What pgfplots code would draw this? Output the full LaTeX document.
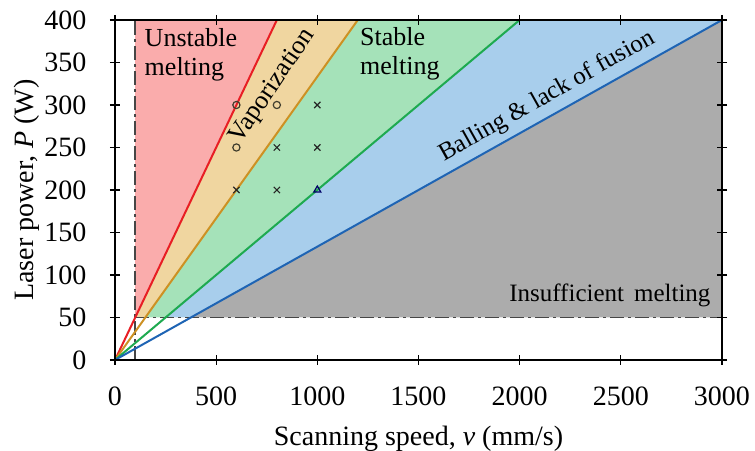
\documentclass[border=0pt]{standalone}
\usepackage{fontspec}
\setmainfont{Liberation Serif}
\usepackage{pgfplots}
\pgfplotsset{compat=1.18}
\definecolor{fpink}{RGB}{250,172,172}
\definecolor{forange}{RGB}{240,214,160}
\definecolor{fgreen}{RGB}{165,226,185}
\definecolor{fblue}{RGB}{168,206,236}
\definecolor{fgray}{RGB}{172,172,172}
\definecolor{lred}{RGB}{232,30,36}
\definecolor{lorange}{RGB}{205,145,35}
\definecolor{lgreen}{RGB}{30,170,80}
\definecolor{lblue}{RGB}{30,100,180}
\definecolor{dashc}{RGB}{70,70,70}
\begin{document}
\fontsize{14}{16}\selectfont
\begin{tikzpicture}
\begin{axis}[
  scale only axis,
  width=303.5pt, height=170pt,
  xmin=0, xmax=3000, ymin=0, ymax=400,
  xtick={0,500,...,3000}, ytick={0,50,...,400},
  tick align=center,
  major tick length=5pt,
  tick style={black, line width=0.6pt},
  axis line style={black, line width=0.7pt},
  /pgf/number format/assume math mode=true,
  /pgf/number format/set thousands separator={},
  tick label style={font=\fontsize{14}{16}\selectfont},
  yticklabel style={xshift=-7pt},
  xticklabel style={yshift=-6pt},
  label style={font=\fontsize{14}{16}\selectfont},
  xlabel={Scanning speed, \textit{v} (mm/s)},
  ylabel={Laser power, \textit{P} (W)},
  xlabel style={at={(axis description cs:0.5,-0.232)}, anchor=center},
  ylabel style={at={(axis description cs:-0.145,0.5)}, anchor=center},
  axis on top,
  clip=true,
]
% region fills
\addplot[fill=fpink, draw=none] coordinates {(100,50) (100,400) (800,400)} -- cycle;
\addplot[fill=forange, draw=none] coordinates {(100,50) (800,400) (1200,400) (150,50)} -- cycle;
\addplot[fill=fgreen, draw=none] coordinates {(150,50) (1200,400) (2000,400) (250,50)} -- cycle;
\addplot[fill=fblue, draw=none] coordinates {(250,50) (2000,400) (3000,400) (375,50)} -- cycle;
\addplot[fill=fgray, draw=none] coordinates {(375,50) (3000,400) (3000,50)} -- cycle;
% dash-dot boundaries
\addplot[dashc, line width=0.8pt, dash pattern=on 7pt off 2pt on 1.5pt off 2pt] coordinates {(100,0) (100,400)};
\addplot[dashc, line width=0.8pt, dash pattern=on 7pt off 2pt on 1.5pt off 2pt] coordinates {(100,50) (3000,50)};
% boundary lines
\addplot[lred, line width=1pt] coordinates {(0,0) (800,400)};
\addplot[lorange, line width=1pt] coordinates {(0,0) (1200,400)};
\addplot[lgreen, line width=1pt] coordinates {(0,0) (2000,400)};
\addplot[lblue, line width=1pt] coordinates {(0,0) (3000,400)};
% experimental points
\addplot[only marks, mark=o, mark size=1.8pt, color=black!70!olive, line width=0.6pt] coordinates {(600,300) (600,250) (800,300)};
\addplot[only marks, mark=x, mark size=2.2pt, color=black!85, line width=0.6pt] coordinates {(600,200) (800,250) (800,200) (1000,300) (1000,250)};
\addplot[only marks, mark=triangle, mark size=2pt, color=black!60!blue, line width=0.6pt] coordinates {(1000,200)};
% region labels
\node[anchor=north west, align=left, inner sep=0pt, font=\fontsize{13}{14.5}\selectfont] at (axis cs:145,390) {Unstable\\melting};
\node[anchor=north west, align=left, inner sep=0pt, font=\fontsize{13}{14.5}\selectfont] at (axis cs:1210,392) {Stable\\melting};
\node[rotate=56, inner sep=0pt, font=\fontsize{13}{15}\selectfont] at (axis cs:780,322) {Vaporization};
\node[rotate=29.3, inner sep=0pt, font=\fontsize{12.5}{15}\selectfont] at (axis cs:2135,310) {Balling \& lack of fusion};
\node[anchor=east, inner sep=0pt, font=\fontsize{12.5}{15}\selectfont] at (axis cs:2945,76) {Insufficient\hspace{0.4em}melting};
\end{axis}
\pgfresetboundingbox
\path[use as bounding box] ([shift={(-57.5pt,-45.5pt)}]current axis.south west) rectangle ([shift={(16.5pt,10pt)}]current axis.north east);
\end{tikzpicture}
\end{document}
